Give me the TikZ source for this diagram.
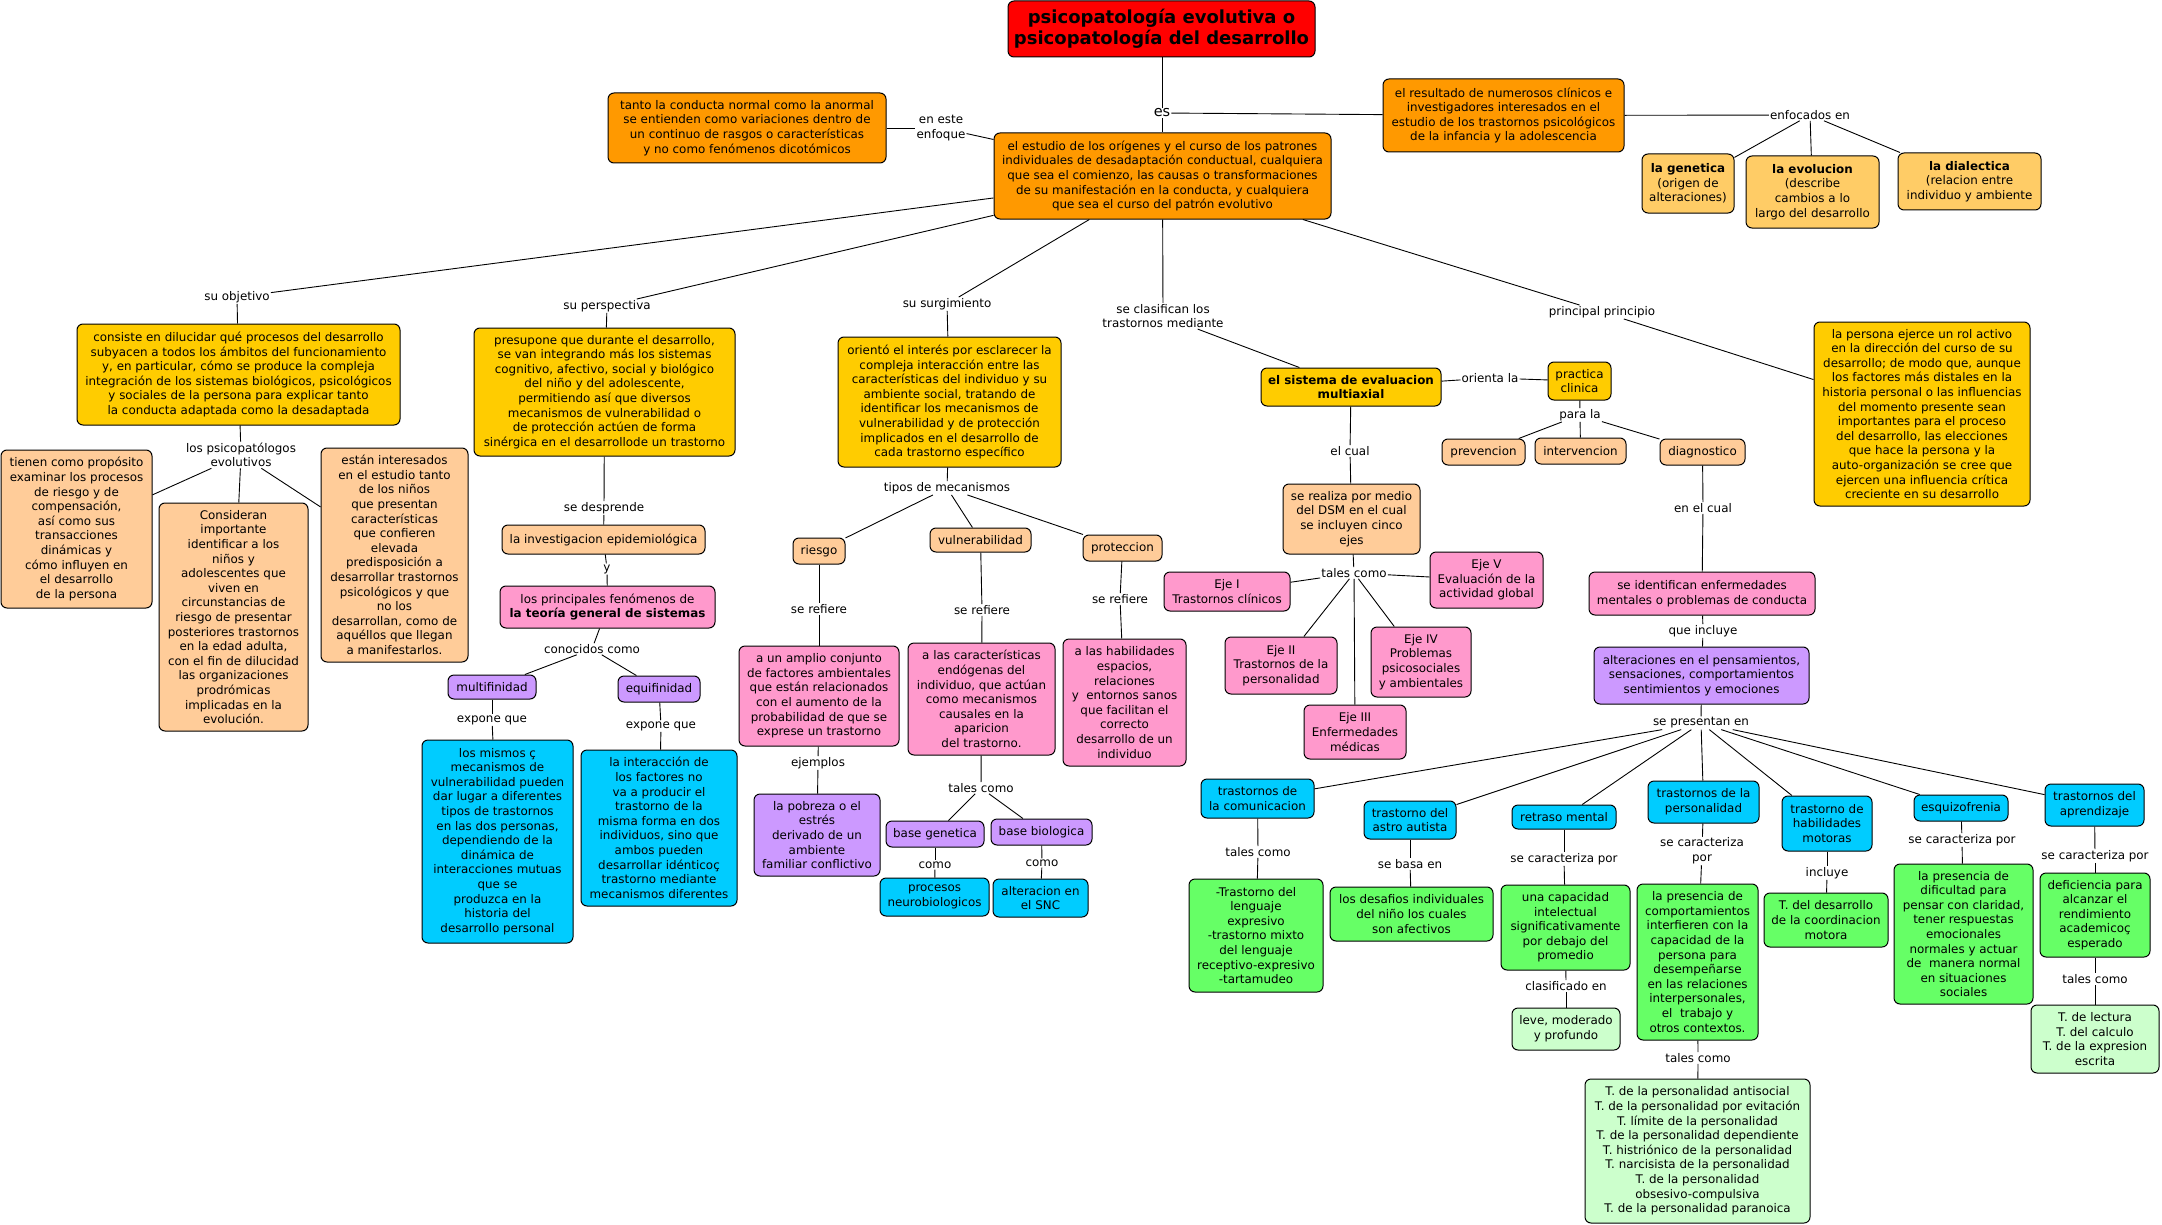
\documentclass[tikz,border=0pt]{standalone}
\usepackage{fontspec}
\setmainfont{DejaVu Sans}
\definecolor{cRed}{HTML}{FF0000}
\definecolor{cOr}{HTML}{FF9900}
\definecolor{cYe}{HTML}{FFCC00}
\definecolor{cLo}{HTML}{FFCC66}
\definecolor{cPe}{HTML}{FFCC99}
\definecolor{cPi}{HTML}{FF99CC}
\definecolor{cPu}{HTML}{CC99FF}
\definecolor{cCy}{HTML}{00CCFF}
\definecolor{cGr}{HTML}{66FF66}
\definecolor{cLg}{HTML}{CCFFCC}
\newcommand\mapbox[7]{%
  \pgfmathsetmacro\mbw{#4-#2}\pgfmathsetmacro\mbh{#5-#3}%
  \node[box,#6,minimum width=\mbw pt,minimum height=\mbh pt] (#1) at ({(#2+#4)/2},{(#3+#5)/2}) {#7};}
\newcommand\maplbl[4]{\node[lbl] (#1) at (#2,#3) {#4};}
\begin{document}
\begin{tikzpicture}[x=1pt,y=-1pt,
  box/.style={draw=black,line width=1pt,rounded corners=6pt,align=center,inner sep=2pt,
    font=\fontsize{11.9}{14.6}\selectfont},
  lbl/.style={align=center,inner sep=1pt,font=\fontsize{11.9}{14.6}\selectfont},
  conn/.style={draw=black,line width=0.9pt}]
\fill[white] (0,0) rectangle (2162,1225);
\useasboundingbox (0,0) rectangle (2162,1225);

% ---------- boxes ----------
\mapbox{title}{1008}{1}{1315}{57}{fill=cRed,font=\fontsize{18}{21}\selectfont\bfseries}{psicopatología evolutiva o\\psicopatología del desarrollo}
\mapbox{tanto}{608}{93}{886}{163}{fill=cOr}{tanto la conducta normal como la anormal\\se entienden como variaciones dentro de\\un continuo de rasgos o características\\y no como fenómenos dicotómicos}
\mapbox{study}{994}{133}{1331}{219}{fill=cOr}{el estudio de los orígenes y el curso de los patrones\\individuales de desadaptación conductual, cualquiera\\que sea el comienzo, las causas o transformaciones\\de su manifestación en la conducta, y cualquiera\\que sea el curso del patrón evolutivo}
\mapbox{result}{1383}{79}{1624}{152}{fill=cOr}{el resultado de numerosos clínicos e\\investigadores interesados en el\\estudio de los trastornos psicológicos\\de la infancia y la adolescencia}
\mapbox{gen}{1642}{154}{1734}{213}{fill=cLo}{\textbf{la genetica}\\(origen de\\alteraciones)}
\mapbox{evo}{1746}{156}{1879}{228}{fill=cLo}{\textbf{la evolucion}\\(describe\\cambios a lo\\largo del desarrollo}
\mapbox{dial}{1898}{153}{2041}{210}{fill=cLo}{\textbf{la dialectica}\\(relacion entre\\individuo y ambiente}
\mapbox{persona}{1814}{322}{2030}{506}{fill=cYe}{la persona ejerce un rol activo\\en la dirección del curso de su\\desarrollo; de modo que, aunque\\los factores más distales en la\\historia personal o las influencias\\del momento presente sean\\importantes para el proceso\\del desarrollo, las elecciones\\que hace la persona y la\\auto-organización se cree que\\ejercen una influencia crítica\\creciente en su desarrollo}
\mapbox{consiste}{77}{324}{400}{425}{fill=cYe}{consiste en dilucidar qué procesos del desarrollo\\subyacen a todos los ámbitos del funcionamiento\\y, en particular, cómo se produce la compleja\\integración de los sistemas biológicos, psicológicos\\y sociales de la persona para explicar tanto\\la conducta adaptada como la desadaptada}
\mapbox{presup}{474}{328}{735}{456}{fill=cYe}{presupone que durante el desarrollo,\\se van integrando más los sistemas\\cognitivo, afectivo, social y biológico\\del niño y del adolescente,\\permitiendo así que diversos\\mecanismos de vulnerabilidad o\\de protección actúen de forma\\sinérgica en el desarrollode un trastorno}
\mapbox{orient}{838}{337}{1061}{467}{fill=cYe}{orientó el interés por esclarecer la\\compleja interacción entre las\\características del individuo y su\\ambiente social, tratando de\\identificar los mecanismos de\\vulnerabilidad y de protección\\implicados en el desarrollo de\\cada trastorno específico}
\mapbox{tienen}{1}{450}{152}{608}{fill=cPe}{tienen como propósito\\examinar los procesos\\de riesgo y de\\compensación,\\así como sus\\transacciones\\dinámicas y\\cómo influyen en\\el desarrollo\\de la persona}
\mapbox{consid}{159}{503}{308}{731}{fill=cPe}{Consideran\\importante\\identificar a los\\niños y\\adolescentes que\\viven en\\circunstancias de\\riesgo de presentar\\posteriores trastornos\\en la edad adulta,\\con el fin de dilucidad\\las organizaciones\\prodrómicas\\implicadas en la\\evolución.}
\mapbox{estan}{321}{448}{468}{662}{fill=cPe}{están interesados\\en el estudio tanto\\de los niños\\que presentan\\características\\que confieren\\elevada\\predisposición a\\desarrollar trastornos\\psicológicos y que\\no los\\desarrollan, como de\\aquéllos que llegan\\a manifestarlos.}
\mapbox{invest}{502}{525}{705}{554}{fill=cPe}{la investigacion epidemiológica}
\mapbox{teoria}{500}{586}{715}{628}{fill=cPi}{los principales fenómenos de\\\textbf{la teoría general de sistemas}}
\mapbox{multi}{448}{675}{536}{699}{fill=cPu}{multifinidad}
\mapbox{equi}{618}{676}{700}{702}{fill=cPu}{equifinidad}
\mapbox{mismos}{422}{740}{573}{943}{fill=cCy}{los mismos ç\\mecanismos de\\vulnerabilidad pueden\\dar lugar a diferentes\\tipos de trastornos\\en las dos personas,\\dependiendo de la\\dinámica de\\interacciones mutuas\\que se\\produzca en la\\historia del\\desarrollo personal}
\mapbox{interac}{581}{750}{737}{906}{fill=cCy}{la interacción de\\los factores no\\va a producir el\\trastorno de la\\misma forma en dos\\individuos, sino que\\ambos pueden\\desarrollar idénticoç\\trastorno mediante\\mecanismos diferentes}
\mapbox{riesgo}{793}{538}{845}{564}{fill=cPe}{riesgo}
\mapbox{vuln}{930}{528}{1031}{552}{fill=cPe}{vulnerabilidad}
\mapbox{prot}{1083}{535}{1162}{561}{fill=cPe}{proteccion}
\mapbox{amplio}{739}{646}{899}{746}{fill=cPi}{a un amplio conjunto\\de factores ambientales\\que están relacionados\\con el aumento de la\\probabilidad de que se\\exprese un trastorno}
\mapbox{caract}{908}{643}{1055}{755}{fill=cPi}{a las características\\endógenas del\\individuo, que actúan\\como mecanismos\\causales en la\\aparicion\\del trastorno.}
\mapbox{habil}{1063}{639}{1186}{766}{fill=cPi}{a las habilidades\\espacios,\\relaciones\\y~ entornos sanos\\que facilitan el\\correcto\\desarrollo de un\\individuo}
\mapbox{pobreza}{754}{794}{880}{876}{fill=cPu}{la pobreza o el\\estrés\\derivado de un\\ambiente\\familiar conflictivo}
\mapbox{bgen}{886}{821}{984}{847}{fill=cPu}{base genetica}
\mapbox{bbio}{991}{819}{1092}{845}{fill=cPu}{base biologica}
\mapbox{proc}{880}{878}{989}{916}{fill=cCy}{procesos\\neurobiologicos}
\mapbox{snc}{993}{879}{1088}{917}{fill=cCy}{alteracion en\\el SNC}
\mapbox{sistema}{1261}{368}{1441}{406}{fill=cYe,font=\fontsize{11.9}{14.6}\selectfont\bfseries}{el sistema de evaluacion\\multiaxial}
\mapbox{practica}{1548}{362}{1611}{400}{fill=cYe}{practica\\clinica}
\mapbox{realiza}{1283}{484}{1420}{554}{fill=cPe}{se realiza por medio\\del DSM en el cual\\se incluyen cinco\\ejes}
\mapbox{eje1}{1164}{572}{1290}{611}{fill=cPi}{Eje I\\Trastornos clínicos}
\mapbox{eje5}{1430}{552}{1543}{608}{fill=cPi}{Eje V\\Evaluación de la\\actividad global}
\mapbox{eje2}{1225}{637}{1337}{694}{fill=cPi}{Eje II\\Trastornos de la\\personalidad}
\mapbox{eje4}{1371}{627}{1471}{697}{fill=cPi}{Eje IV\\Problemas\\psicosociales\\y ambientales}
\mapbox{eje3}{1304}{705}{1406}{759}{fill=cPi}{Eje III\\Enfermedades\\médicas}
\mapbox{prev}{1442}{439}{1525}{465}{fill=cPe}{prevencion}
\mapbox{interv}{1535}{438}{1626}{464}{fill=cPe}{intervencion}
\mapbox{diag}{1660}{439}{1745}{465}{fill=cPe}{diagnostico}
\mapbox{ident}{1589}{572}{1815}{615}{fill=cPi}{se identifican enfermedades\\mentales o problemas de conducta}
\mapbox{alter}{1594}{647}{1809}{704}{fill=cPu}{alteraciones en el pensamientos,\\sensaciones, comportamientos\\sentimientos y emociones}
\mapbox{comu}{1201}{779}{1314}{818}{fill=cCy}{trastornos de\\la comunicacion}
\mapbox{autis}{1364}{801}{1456}{839}{fill=cCy}{trastorno del\\astro autista}
\mapbox{retra}{1512}{805}{1616}{829}{fill=cCy}{retraso mental}
\mapbox{perso}{1648}{781}{1759}{823}{fill=cCy}{trastornos de la\\personalidad}
\mapbox{motor}{1782}{796}{1872}{851}{fill=cCy}{trastorno de\\habilidades\\motoras}
\mapbox{esqu}{1914}{795}{2008}{821}{fill=cCy}{esquizofrenia}
\mapbox{apren}{2045}{784}{2144}{826}{fill=cCy}{trastornos del\\aprendizaje}
\mapbox{gcomu}{1189}{879}{1323}{992}{fill=cGr}{-Trastorno del\\lenguaje\\expresivo\\-trastorno mixto\\del lenguaje\\receptivo-expresivo\\-tartamudeo}
\mapbox{gautis}{1330}{887}{1493}{941}{fill=cGr}{los desafios individuales\\del niño los cuales\\son afectivos}
\mapbox{gretra}{1501}{885}{1630}{970}{fill=cGr}{una capacidad\\intelectual\\significativamente\\por debajo del\\promedio}
\mapbox{leve}{1512}{1008}{1620}{1050}{fill=cLg}{leve, moderado\\y profundo}
\mapbox{gperso}{1637}{884}{1758}{1040}{fill=cGr}{la presencia de\\comportamientos\\interfieren con la\\capacidad de la\\persona para\\desempeñarse\\en las relaciones\\interpersonales,\\el~ trabajo y\\otros contextos.}
\mapbox{lperso}{1585}{1079}{1810}{1223}{fill=cLg}{T. de la personalidad antisocial\\T. de la personalidad por evitación\\T. límite de la personalidad\\T. de la personalidad dependiente\\T. histriónico de la personalidad\\T. narcisista de la personalidad\\T. de la personalidad\\obsesivo-compulsiva\\T. de la personalidad paranoica}
\mapbox{gmotor}{1764}{893}{1888}{947}{fill=cGr}{T. del desarrollo\\de la coordinacion\\motora}
\mapbox{gesqu}{1894}{864}{2033}{1004}{fill=cGr}{la presencia de\\dificultad para\\pensar con claridad,\\tener respuestas\\emocionales\\normales y actuar\\de~ manera normal\\en situaciones\\sociales}
\mapbox{gapren}{2040}{873}{2150}{957}{fill=cGr}{deficiencia para\\alcanzar el\\rendimiento\\academicoç\\esperado}
\mapbox{lapren}{2031}{1005}{2159}{1073}{fill=cLg}{T. de lectura\\T. del calculo\\T. de la expresion\\escrita}

% ---------- labels ----------
\node[lbl,font=\fontsize{14.5}{16}\selectfont] (es) at (1162,113) {es};
\maplbl{enfoque}{941}{128}{en este\\enfoque}
\maplbl{enfoc}{1810}{115}{enfocados en}
\maplbl{objetivo}{237}{297}{su objetivo}
\maplbl{perspectiva}{607}{306}{su perspectiva}
\maplbl{surgim}{947}{304}{su surgimiento}
\maplbl{clasif}{1163}{316}{se clasifican los\\trastornos mediante}
\maplbl{princ}{1602}{312}{principal principio}
\maplbl{orienta}{1490}{378}{orienta la}
\maplbl{psicop}{241}{455}{los psicopatólogos\\evolutivos}
\maplbl{desprende}{604}{508}{se desprende}
\maplbl{ylbl}{607}{569}{y}
\maplbl{conocidos}{592}{649}{conocidos como}
\maplbl{expone1}{492}{720}{expone que}
\maplbl{expone2}{661}{726}{expone que}
\maplbl{tipos}{947}{488}{tipos de mecanismos}
\maplbl{refiere1}{819}{609}{se refiere}
\maplbl{refiere2}{982}{610}{se refiere}
\maplbl{refiere3}{1120}{599}{se refiere}
\maplbl{ejemplos}{818}{763}{ejemplos}
\maplbl{tales1}{981}{788}{tales como}
\maplbl{como1}{935}{865}{como}
\maplbl{como2}{1042}{863}{como}
\maplbl{elcual}{1350}{451}{el cual}
\maplbl{tales2}{1354}{573}{tales como}
\maplbl{parala}{1580}{415}{para la}
\maplbl{enelcual}{1703}{508}{en el cual}
\maplbl{incluye1}{1703}{631}{que incluye}
\maplbl{presentan}{1701}{723}{se presentan en}
\maplbl{tales3}{1258}{852}{tales como}
\maplbl{basa}{1410}{864}{se basa en}
\maplbl{caract1}{1564}{859}{se caracteriza por}
\maplbl{clasif2}{1566}{986}{clasificado en}
\maplbl{caract2}{1702}{851}{se caracteriza\\por}
\maplbl{tales4}{1698}{1058}{tales como}
\maplbl{incluye2}{1827}{873}{incluye}
\maplbl{caract3}{1962}{840}{se caracteriza por}
\maplbl{caract4}{2095}{856}{se caracteriza por}
\maplbl{tales5}{2095}{979}{tales como}

% ---------- connectors ----------
\draw[conn] (es |- title.south) -- (es);
\draw[conn] (es) -- (es |- study.north);
\draw[conn] (es) -- (result);
\draw[conn] (tanto) -- (enfoque);
\draw[conn] (enfoque) -- (study);
\draw[conn] (result) -- (enfoc);
\draw[conn] (enfoc) -- (gen);
\draw[conn] (enfoc) -- (evo);
\draw[conn] (enfoc) -- (dial);
\draw[conn] (study) -- (objetivo);
\draw[conn] (objetivo) -- (consiste);
\draw[conn] (study) -- (perspectiva);
\draw[conn] (perspectiva) -- (presup);
\draw[conn] (study) -- (surgim);
\draw[conn] (surgim) -- (orient);
\draw[conn] (study) -- (clasif);
\draw[conn] (clasif) -- (sistema);
\draw[conn] (study) -- (princ);
\draw[conn] (princ) -- (persona);
\draw[conn] (consiste) -- (psicop);
\draw[conn] (psicop) -- (tienen);
\draw[conn] (psicop) -- (consid);
\draw[conn] (psicop) -- (estan);
\draw[conn] (presup) -- (desprende);
\draw[conn] (desprende) -- (invest);
\draw[conn] (invest) -- (ylbl);
\draw[conn] (ylbl) -- (teoria);
\draw[conn] (teoria) -- (conocidos);
\draw[conn] (conocidos) -- (multi);
\draw[conn] (conocidos) -- (equi);
\draw[conn] (multi) -- (expone1);
\draw[conn] (expone1) -- (mismos);
\draw[conn] (equi) -- (expone2);
\draw[conn] (expone2) -- (interac);
\draw[conn] (orient) -- (tipos);
\draw[conn] (tipos) -- (riesgo);
\draw[conn] (tipos) -- (vuln);
\draw[conn] (tipos) -- (prot);
\draw[conn] (riesgo) -- (refiere1);
\draw[conn] (refiere1) -- (amplio);
\draw[conn] (amplio) -- (ejemplos);
\draw[conn] (ejemplos) -- (pobreza);
\draw[conn] (vuln) -- (refiere2);
\draw[conn] (refiere2) -- (caract);
\draw[conn] (caract) -- (tales1);
\draw[conn] (tales1) -- (bgen);
\draw[conn] (tales1) -- (bbio);
\draw[conn] (bgen) -- (como1);
\draw[conn] (como1) -- (proc);
\draw[conn] (bbio) -- (como2);
\draw[conn] (como2) -- (snc);
\draw[conn] (prot) -- (refiere3);
\draw[conn] (refiere3) -- (habil);
\draw[conn] (sistema) -- (orienta);
\draw[conn] (orienta) -- (practica);
\draw[conn] (sistema) -- (elcual);
\draw[conn] (elcual) -- (realiza);
\draw[conn] (realiza) -- (tales2);
\draw[conn] (tales2) -- (eje1);
\draw[conn] (tales2) -- (eje2);
\draw[conn] (tales2) -- (eje3);
\draw[conn] (tales2) -- (eje4);
\draw[conn] (tales2) -- (eje5);
\draw[conn] (practica) -- (parala);
\draw[conn] (parala) -- (prev);
\draw[conn] (parala) -- (interv);
\draw[conn] (parala) -- (diag);
\draw[conn] (diag) -- (enelcual);
\draw[conn] (enelcual) -- (ident);
\draw[conn] (ident) -- (incluye1);
\draw[conn] (incluye1) -- (alter);
\draw[conn] (alter) -- (presentan);
\foreach \t in {comu,autis,retra,perso,motor,esqu,apren}
  \draw[conn] (presentan) -- (\t);
\draw[conn] (comu) -- (tales3);
\draw[conn] (tales3) -- (gcomu);
\draw[conn] (autis) -- (basa);
\draw[conn] (basa) -- (gautis);
\draw[conn] (retra) -- (caract1);
\draw[conn] (caract1) -- (gretra);
\draw[conn] (gretra) -- (clasif2);
\draw[conn] (clasif2) -- (leve);
\draw[conn] (perso) -- (caract2);
\draw[conn] (caract2) -- (gperso);
\draw[conn] (gperso) -- (tales4);
\draw[conn] (tales4) -- (lperso);
\draw[conn] (motor) -- (incluye2);
\draw[conn] (incluye2) -- (gmotor);
\draw[conn] (esqu) -- (caract3);
\draw[conn] (caract3) -- (gesqu);
\draw[conn] (apren) -- (caract4);
\draw[conn] (caract4) -- (gapren);
\draw[conn] (gapren) -- (tales5);
\draw[conn] (tales5) -- (lapren);
\end{tikzpicture}
\end{document}
